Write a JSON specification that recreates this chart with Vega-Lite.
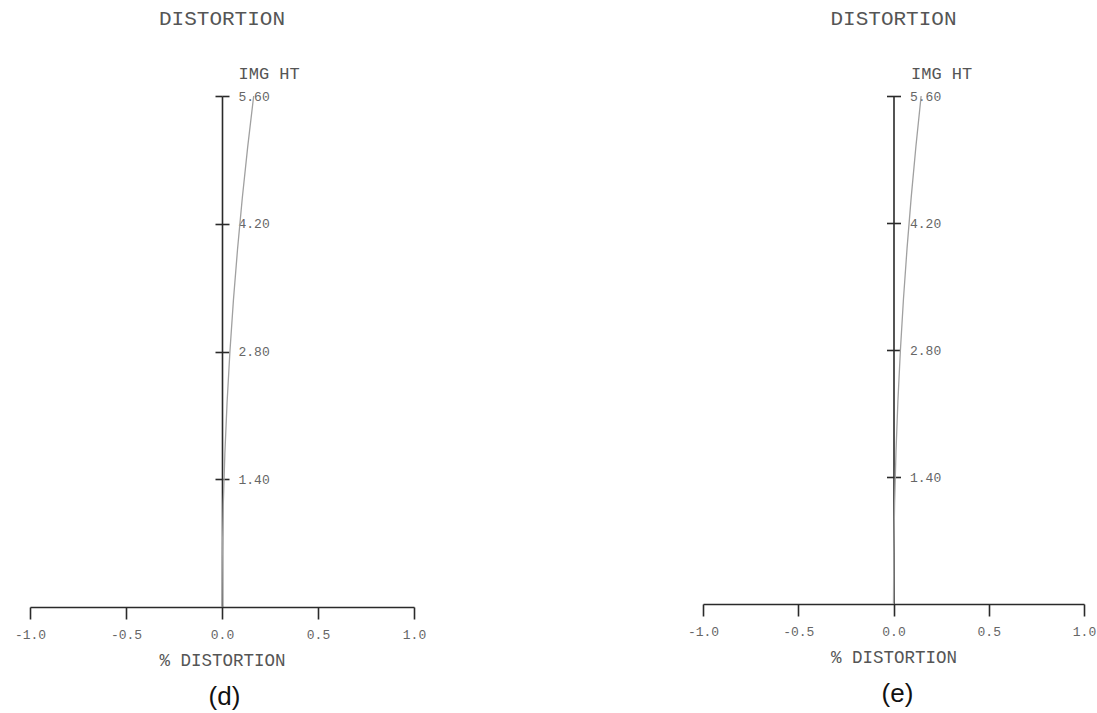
{
  "$schema": "https://vega.github.io/schema/vega-lite/v6.json",
  "background": "white",
  "padding": {"left": 14, "top": 8, "right": 5, "bottom": 5},
  "bounds": "flush",
  "spacing": 289,
  "datasets": {
    "d": [
      {"img_ht": 0.0, "distortion": 0.0},
      {"img_ht": 0.56, "distortion": 0.0017},
      {"img_ht": 1.12, "distortion": 0.0066},
      {"img_ht": 1.68, "distortion": 0.0149},
      {"img_ht": 2.24, "distortion": 0.0264},
      {"img_ht": 2.8, "distortion": 0.0413},
      {"img_ht": 3.36, "distortion": 0.0594},
      {"img_ht": 3.92, "distortion": 0.0809},
      {"img_ht": 4.48, "distortion": 0.1056},
      {"img_ht": 5.04, "distortion": 0.1337},
      {"img_ht": 5.6, "distortion": 0.165}
    ],
    "e": [
      {"img_ht": 0.0, "distortion": 0.0},
      {"img_ht": 0.56, "distortion": 0.0015},
      {"img_ht": 1.12, "distortion": 0.0058},
      {"img_ht": 1.68, "distortion": 0.0131},
      {"img_ht": 2.24, "distortion": 0.0232},
      {"img_ht": 2.8, "distortion": 0.0363},
      {"img_ht": 3.36, "distortion": 0.0522},
      {"img_ht": 3.92, "distortion": 0.0711},
      {"img_ht": 4.48, "distortion": 0.0928},
      {"img_ht": 5.04, "distortion": 0.1175},
      {"img_ht": 5.6, "distortion": 0.145}
    ]
  },
  "config": {
    "view": {"stroke": null},
    "font": "Liberation Mono",
    "axis": {
      "grid": false,
      "domainColor": "#2a2a2a",
      "domainWidth": 1.6,
      "tickColor": "#2a2a2a",
      "tickWidth": 1.6,
      "labelFont": "Liberation Mono",
      "labelFontSize": 13,
      "labelColor": "#666666",
      "titleFont": "Liberation Mono",
      "titleFontWeight": "normal",
      "titleColor": "#555555"
    },
    "title": {"font": "Liberation Mono", "fontWeight": "normal", "color": "#555555"}
  },
  "hconcat": [
    {
      "width": 384,
      "height": 511,
      "title": {"text": "DISTORTION", "frame": "group", "anchor": "middle", "fontSize": 21, "offset": 35},
      "data": {"name": "d"},
      "layer": [
        {
          "mark": {"type": "line", "color": "#a0a0a0", "strokeWidth": 1.3},
          "encoding": {
            "x": {
              "field": "distortion", "type": "quantitative",
              "scale": {"domain": [-1, 1], "nice": false, "zero": false},
              "axis": {
                "orient": "bottom",
                "values": [-1, -0.5, 0, 0.5, 1],
                "labelExpr": "datum.value < 0 ? '-' + format(-datum.value, '.1f') : format(datum.value, '.1f')",
                "tickSize": 12,
                "labelPadding": 9,
                "labelFlush": false,
                "labelOverlap": false,
                "title": "% DISTORTION",
                "titleFontSize": 17.5,
                "titleY": 53,
                "titleBaseline": "middle"
              }
            },
            "y": {
              "field": "img_ht", "type": "quantitative",
              "scale": {"domain": [0, 5.6], "nice": false},
              "axis": {
                "orient": "right",
                "offset": -192,
                "values": [1.4, 2.8, 4.2, 5.6],
                "labelExpr": "format(datum.value, '.2f')",
                "tickSize": 7,
                "labelPadding": 9,
                "labelAlign": "left",
                "labelBaseline": "middle",
                "labelFlush": false,
                "labelOverlap": false,
                "title": "IMG HT",
                "titleAngle": 0,
                "titleAlign": "left",
                "titleBaseline": "middle",
                "titleX": 16,
                "titleY": -23,
                "titleFontSize": 17
              }
            },
            "order": {"field": "img_ht", "type": "quantitative"}
          }
        },
        {
          "mark": {"type": "point", "opacity": 0},
          "encoding": {
            "x": {
              "field": "distortion", "type": "quantitative",
              "axis": {
                "orient": "bottom",
                "domain": false, "ticks": false, "labels": false,
                "title": "(d)",
                "titleFont": "Liberation Sans",
                "titleFontSize": 26,
                "titleColor": "#111111",
                "titleX": 194,
                "titleY": 89,
                "titleBaseline": "middle"
              }
            },
            "y": {
              "field": "img_ht", "type": "quantitative",
              "axis": {
                "orient": "left",
                "offset": -192,
                "values": [1.4, 2.8, 4.2, 5.6],
                "domain": false,
                "labels": false,
                "tickSize": 7,
                "title": null
              }
            }
          }
        }
      ],
      "resolve": {"axis": {"x": "independent", "y": "independent"}}
    },
    {
      "width": 381,
      "height": 508,
      "title": {"text": "DISTORTION", "frame": "group", "anchor": "middle", "fontSize": 21, "offset": 35},
      "data": {"name": "e"},
      "layer": [
        {
          "mark": {"type": "line", "color": "#a0a0a0", "strokeWidth": 1.3},
          "encoding": {
            "x": {
              "field": "distortion", "type": "quantitative",
              "scale": {"domain": [-1, 1], "nice": false, "zero": false},
              "axis": {
                "orient": "bottom",
                "values": [-1, -0.5, 0, 0.5, 1],
                "labelExpr": "datum.value < 0 ? '-' + format(-datum.value, '.1f') : format(datum.value, '.1f')",
                "tickSize": 12,
                "labelPadding": 9,
                "labelFlush": false,
                "labelOverlap": false,
                "title": "% DISTORTION",
                "titleFontSize": 17.5,
                "titleY": 53,
                "titleBaseline": "middle"
              }
            },
            "y": {
              "field": "img_ht", "type": "quantitative",
              "scale": {"domain": [0, 5.6], "nice": false},
              "axis": {
                "orient": "right",
                "offset": -190.5,
                "values": [1.4, 2.8, 4.2, 5.6],
                "labelExpr": "format(datum.value, '.2f')",
                "tickSize": 7,
                "labelPadding": 9,
                "labelAlign": "left",
                "labelBaseline": "middle",
                "labelFlush": false,
                "labelOverlap": false,
                "title": "IMG HT",
                "titleAngle": 0,
                "titleAlign": "left",
                "titleBaseline": "middle",
                "titleX": 17,
                "titleY": -23,
                "titleFontSize": 17
              }
            },
            "order": {"field": "img_ht", "type": "quantitative"}
          }
        },
        {
          "mark": {"type": "point", "opacity": 0},
          "encoding": {
            "x": {
              "field": "distortion", "type": "quantitative",
              "axis": {
                "orient": "bottom",
                "domain": false, "ticks": false, "labels": false,
                "title": "(e)",
                "titleFont": "Liberation Sans",
                "titleFontSize": 26,
                "titleColor": "#111111",
                "titleX": 194,
                "titleY": 89,
                "titleBaseline": "middle"
              }
            },
            "y": {
              "field": "img_ht", "type": "quantitative",
              "axis": {
                "orient": "left",
                "offset": -190.5,
                "values": [1.4, 2.8, 4.2, 5.6],
                "domain": false,
                "labels": false,
                "tickSize": 7,
                "title": null
              }
            }
          }
        }
      ],
      "resolve": {"axis": {"x": "independent", "y": "independent"}}
    }
  ]
}
